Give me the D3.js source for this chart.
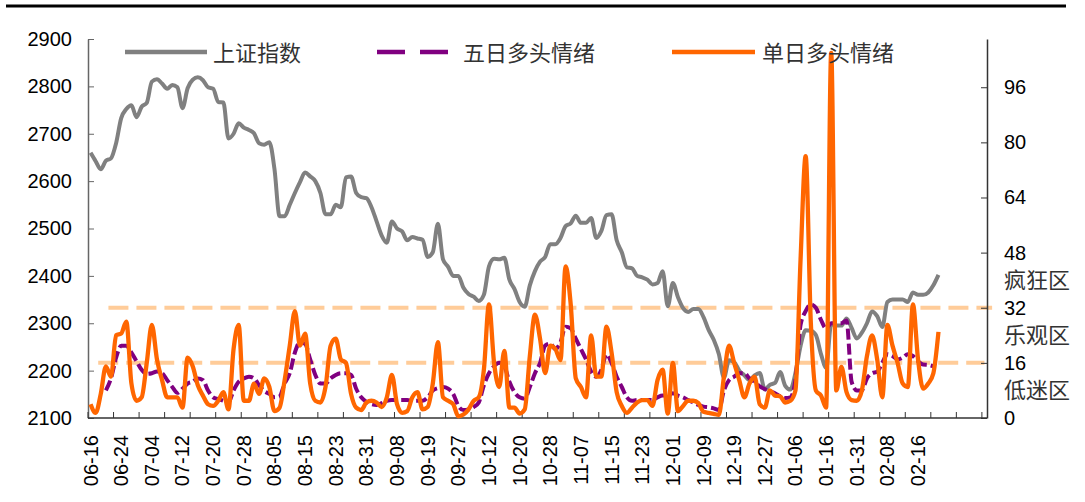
<!DOCTYPE html>
<html>
<head>
<meta charset="utf-8">
<script src="https://d3js.org/d3.v7.min.js"></script>
<style>
body { margin: 0; background: #fff; }
svg text { font-family: "Liberation Sans", Arial, sans-serif; fill: #000; }
svg text.cjk { font-family: "Noto Sans CJK SC", sans-serif; fill: #333; }
</style>
</head>
<body>
<svg id="chart" width="1085" height="502"></svg>
<script>
// labels shown under the axis, one every 6 trading days
var tickLabels = ["06-16","06-24","07-04","07-12","07-20","07-28","08-05","08-15","08-23","08-31",
  "09-08","09-19","09-27","10-12","10-20","10-28","11-07","11-15","11-23","12-01",
  "12-09","12-19","12-27","01-06","01-16","01-31","02-08","02-16"];

// 上证指数 (left axis)
var shIndex = [2660,2642,2625,2643,2648,2680,2733,2752,2760,2735,2757,2765,2810,2815,2806,2795,2803,2798,2754,2796,
  2814,2819,2813,2798,2795,2767,2766,2690,2700,2722,2713,2708,2701,2680,2677,2682,2626,2526,2526,2550,
  2575,2598,2618,2610,2600,2575,2530,2530,2550,2545,2608,2610,2575,2566,2564,2545,2515,2485,2470,2515,
  2500,2494,2475,2482,2479,2476,2440,2450,2510,2435,2419,2400,2400,2375,2362,2356,2347,2360,2420,2436,
  2435,2438,2392,2372,2345,2335,2380,2410,2430,2440,2467,2467,2480,2505,2511,2527,2512,2512,2522,2480,
  2495,2528,2530,2475,2450,2418,2416,2400,2397,2392,2382,2385,2410,2336,2385,2355,2332,2324,2330,2330,
  2313,2286,2265,2235,2185,2222,2218,2200,2190,2180,2190,2195,2160,2170,2174,2197,2168,2160,2195,2252,
  2285,2284,2275,2235,2206,2298,2295,2295,2310,2290,2268,2280,2300,2325,2315,2292,2345,2350,2350,2350,
  2345,2365,2360,2360,2365,2380,2402];

// 五日多头情绪 (right axis)
var fiveDay = [null,null,null,8,11.5,17.5,21,21,19,16.5,14,12.8,13,13.5,13,11,9,7.3,8.5,10,
  10.5,11.5,11,8,6,5.5,5,4.5,8,10.5,11.5,12,11.5,9.5,7.8,7,6,6.3,10,13,
  19,22,21.5,17,12.5,10,10,11.5,12.5,13,13,12.5,8.5,6,4.7,4,3.8,4.3,5,5.2,
  5.2,5.2,5.2,5,5,5,6,8,8.7,9,8.5,7,3.5,2.3,2.5,3.2,4.5,9.5,13,15,
  16,15,10.5,7.5,6,5.6,9,13,16,21,21.6,20,22,26.5,26,23,20,17,13.5,12,
  14,18.5,16,12,9,6,5,5.2,5.2,5.2,5.2,6,6.5,6.5,7.2,6.5,6,5.2,4.5,3.8,
  3.3,3.1,2.8,2.3,8,11,12,13,13,11.5,10.5,9.2,8.4,7.8,7.2,6.3,5.8,6,11,27,
  31,33,32,28.5,26,27.5,27.5,27.5,28.3,10.5,8,8,11.5,13,13.4,16,18.5,18,17,17.5,
  18.5,18,16.5,15.5,15.4,15,null];

// 单日多头情绪 (right axis)
var oneDay = [4,1.5,7,15,12,24,24.5,28,10,5,6,16,27,17,11,6,6,6,3,17.5,
  15,9.5,6.5,4,3.5,5,7.5,2.5,20,27,5,5,10,7,11.5,9,2,3,11,21,
  31,21,24.5,10,5,4.5,9,21,23,17,16,7,3,2.3,4.5,5,4.5,3.2,6,12.5,
  4,1.5,2,6,7.5,2.5,3.2,10,22,6,5,4,0.5,1,2.5,5,6,14,33,16,
  9,19.5,3,3,1.3,2.5,18,30,23,13,21,20,16.8,44,33,11.5,9,6,24,12,
  12,26.5,19,7.5,3.5,1.5,3,4.5,5.2,5.2,3.5,11,14,1.3,16,2,3.5,5,5,4.3,
  1.8,1.5,1.2,0.9,12,21,16,11,6,10,12,4,3,8,6.5,6.3,4.5,5,8,46,
  76,28,8,6.5,3,106,8,14.8,7.5,5.2,5,8,18,24,17,6,27,21,16,10,
  9,33,17,8.5,10,13,25];

var leftTicks = [2100,2200,2300,2400,2500,2600,2700,2800,2900];
var rightTicks = [0,16,32,48,64,80,96];
var zoneLines = [32, 16];
var zoneNames = ["疯狂区","乐观区","低迷区"];
var zoneMid = [40, 24, 8];

var svg = d3.select("#chart");
var nCat = 176;   // the category axis has some empty slots after the last day

var x = d3.scaleBand().domain(d3.range(nCat)).range([88, 987]);
var bw = x.bandwidth();
var yL = d3.scaleLinear().domain([2100, 2900]).range([418, 39]);
var yR = d3.scaleLinear().domain([0, 110]).range([418, 39]);
function cx(i) { return x(i) + bw / 2; }

// top rule
svg.append("line").attr("x1", 6).attr("x2", 1066).attr("y1", 6).attr("y2", 6)
  .attr("stroke", "#000").attr("stroke-width", 3);

// zone lines (dashed)
svg.selectAll("line.zone").data(zoneLines).enter().append("line")
  .attr("class", "zone")
  .attr("x1", function(d) { return d === 32 ? x(4) : x(2); })
  .attr("x2", function(d) { return d === 32 ? x(nCat - 1) + bw * 2 : x(nCat - 1) + bw / 2; })
  .attr("y1", function(d) { return yR(d); })
  .attr("y2", function(d) { return yR(d); })
  .attr("stroke", "#FFCC99").attr("stroke-width", 4).attr("stroke-dasharray", "20,8");

// left axis
var gl = svg.append("g").attr("transform", "translate(88,0)")
  .call(d3.axisLeft(yL).tickValues(leftTicks).tickFormat(d3.format("d"))
    .tickSize(-6).tickSizeOuter(0).tickPadding(16));
gl.select(".domain").attr("stroke", "#666").attr("stroke-width", 1.5);
gl.selectAll(".tick line").attr("stroke", "#666");
gl.selectAll("text").attr("font-size", 20).attr("font-family", "Liberation Sans, Arial");

// right axis
var gr = svg.append("g").attr("transform", "translate(987,0)")
  .call(d3.axisRight(yR).tickValues(rightTicks).tickSize(-6).tickSizeOuter(0).tickPadding(17));
gr.select(".domain").attr("stroke", "#333").attr("stroke-width", 1.5);
gr.selectAll(".tick line").attr("stroke", "#333");
gr.selectAll("text").attr("font-size", 20).attr("font-family", "Liberation Sans, Arial");

// bottom axis: ticks every 5 categories, labels every 6
svg.append("line").attr("x1", 88).attr("x2", 987).attr("y1", 418).attr("y2", 418)
  .attr("stroke", "#333").attr("stroke-width", 1.5);
svg.selectAll("line.xtick").data(d3.range(0, nCat + 1, 5)).enter().append("line")
  .attr("class", "xtick")
  .attr("x1", function(d) { return d < nCat ? x(d) : 987; })
  .attr("x2", function(d) { return d < nCat ? x(d) : 987; })
  .attr("y1", 418).attr("y2", 412)
  .attr("stroke", "#333");
svg.selectAll("text.xlab").data(tickLabels).enter().append("text")
  .attr("class", "xlab")
  .attr("font-size", 20)
  .attr("text-anchor", "end")
  .attr("dy", "0.35em")
  .attr("transform", function(d, i) { return "translate(" + cx(i * 6) + ",435) rotate(-90)"; })
  .text(function(d) { return d; });

// series - smoothed, but without dipping under the axis at the spikes
var smooth = d3.curveMonotoneX;
var lineL = d3.line().curve(smooth).x(function(d, i) { return cx(i); }).y(function(d) { return yL(d); });
var lineR = d3.line().curve(smooth).defined(function(d) { return d != null; })
  .x(function(d, i) { return cx(i); }).y(function(d) { return yR(d); });

svg.append("path").datum(shIndex).attr("d", lineL)
  .attr("fill", "none").attr("stroke", "#808080").attr("stroke-width", 4).attr("stroke-linejoin", "round");
svg.append("path").datum(fiveDay).attr("d", lineR)
  .attr("fill", "none").attr("stroke", "#800080").attr("stroke-width", 4).attr("stroke-dasharray", "11,4");
svg.append("path").datum(oneDay).attr("d", lineR)
  .attr("fill", "none").attr("stroke", "#FF6600").attr("stroke-width", 4.3).attr("stroke-linejoin", "round");

// zone names on the right
svg.selectAll("text.zn").data(zoneNames).enter().append("text")
  .attr("class", "cjk zn")
  .attr("x", 1004).attr("y", function(d, i) { return yR(zoneMid[i]); })
  .attr("dy", "0.35em").attr("font-size", 22)
  .text(function(d) { return d; });

// legend
var legend = [
  {name: "上证指数", color: "#808080", dash: null, x1: 125, x2: 207, tx: 213},
  {name: "五日多头情绪", color: "#800080", dash: "28,15", x1: 377, x2: 448, tx: 463},
  {name: "单日多头情绪", color: "#FF6600", dash: null, x1: 672, x2: 755, tx: 762}
];
var lg = svg.selectAll("g.leg").data(legend).enter().append("g").attr("class", "leg");
lg.append("line")
  .attr("x1", function(d) { return d.x1; }).attr("x2", function(d) { return d.x2; })
  .attr("y1", 52).attr("y2", 52)
  .attr("stroke", function(d) { return d.color; }).attr("stroke-width", 4.5)
  .attr("stroke-dasharray", function(d) { return d.dash; });
lg.append("text").attr("class", "cjk")
  .attr("x", function(d) { return d.tx; }).attr("y", 53).attr("dy", "0.35em")
  .attr("font-size", 22)
  .text(function(d) { return d.name; });
</script>
</body>
</html>
